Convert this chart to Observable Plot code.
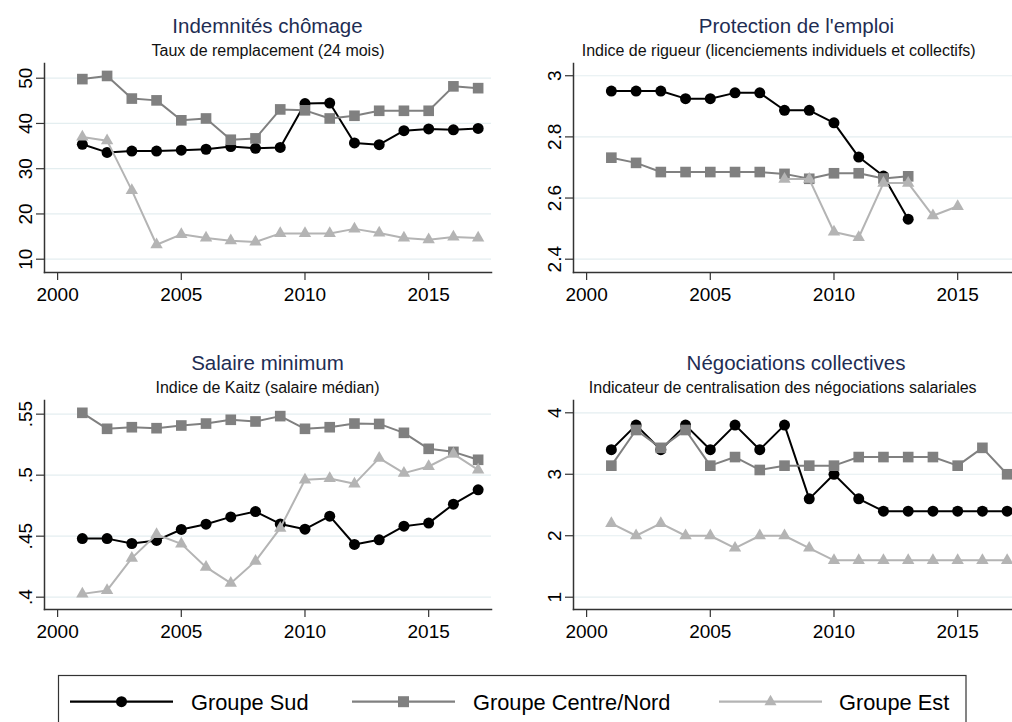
<!DOCTYPE html>
<html>
<head>
<meta charset="utf-8">
<script src="https://cdn.jsdelivr.net/npm/d3@7"></script>
<script src="https://cdn.jsdelivr.net/npm/@observablehq/plot@0.6"></script>
<style>
  html, body { margin: 0; padding: 0; background: #fff; overflow: hidden; }
  #root { position: relative; width: 1012px; height: 722px; overflow: hidden; font-family: "Liberation Sans", Arial, sans-serif; }
  .panel { position: absolute; }
  #overlay { position: absolute; left: 0; top: 0; }
</style>
</head>
<body>
<div id="root"></div>
<script>
// ---------- Data ----------
const groups = ["Groupe Sud", "Groupe Centre/Nord", "Groupe Est"];
const groupColors = ["#000000", "#808080", "#b4b4b4"];
const groupSymbols = ["circle", "square", "triangle"];

const years = [2001, 2002, 2003, 2004, 2005, 2006, 2007, 2008, 2009, 2010, 2011, 2012, 2013, 2014, 2015, 2016, 2017];
const xTicks = [2000, 2005, 2010, 2015];

// Indemnités chômage — taux de remplacement (24 mois)
const ucSud = [35.4, 33.6, 33.9, 33.9, 34.1, 34.3, 34.9, 34.5, 34.7, 44.4, 44.5, 35.7, 35.3, 38.4, 38.8, 38.6, 38.9];
const ucCentreNord = [49.8, 50.5, 45.5, 45.1, 40.7, 41.1, 36.4, 36.7, 43.1, 42.9, 41.1, 41.7, 42.8, 42.8, 42.8, 48.2, 47.8];
const ucEst = [37.0, 36.2, 25.2, 13.2, 15.5, 14.7, 14.1, 13.8, 15.7, 15.7, 15.7, 16.7, 15.8, 14.7, 14.3, 14.9, 14.7];
const ucTicks = [10, 20, 30, 40, 50];

// Protection de l'emploi — indice de rigueur
const eplYearsSudCN = [2001, 2002, 2003, 2004, 2005, 2006, 2007, 2008, 2009, 2010, 2011, 2012, 2013];
const eplSud = [2.950, 2.950, 2.950, 2.925, 2.925, 2.944, 2.944, 2.887, 2.887, 2.846, 2.734, 2.672, 2.531];
const eplCentreNord = [2.732, 2.715, 2.685, 2.685, 2.685, 2.685, 2.685, 2.679, 2.663, 2.681, 2.681, 2.664, 2.671];
const eplYearsEst = [2008, 2009, 2010, 2011, 2012, 2013, 2014, 2015];
const eplEst = [2.662, 2.662, 2.489, 2.471, 2.649, 2.649, 2.542, 2.573];
const eplTicks = [2.4, 2.6, 2.8, 3];

// Salaire minimum — indice de Kaitz (salaire médian)
const kaitzSud = [0.448, 0.448, 0.444, 0.4465, 0.4555, 0.4598, 0.4658, 0.4702, 0.460, 0.4557, 0.4664, 0.4432, 0.447, 0.4582, 0.4607, 0.4762, 0.488];
const kaitzCentreNord = [0.5511, 0.538, 0.5393, 0.5385, 0.5407, 0.5423, 0.5454, 0.544, 0.5484, 0.538, 0.5393, 0.5423, 0.542, 0.5347, 0.5216, 0.5191, 0.5126];
const kaitzEst = [0.4027, 0.4055, 0.432, 0.4514, 0.4437, 0.4246, 0.4115, 0.4295, 0.4566, 0.4962, 0.4973, 0.4929, 0.514, 0.5017, 0.5071, 0.5175, 0.5044];
const kaitzTicks = [0.4, 0.45, 0.5, 0.55];
const kaitzTickLabels = [".4", ".45", ".5", ".55"];

// Négociations collectives — centralisation
const negSud = [3.4, 3.8, 3.4, 3.8, 3.4, 3.8, 3.4, 3.8, 2.6, 3.0, 2.6, 2.4, 2.4, 2.4, 2.4, 2.4, 2.4];
const negCentreNord = [3.14, 3.72, 3.43, 3.72, 3.14, 3.28, 3.07, 3.14, 3.14, 3.14, 3.28, 3.28, 3.28, 3.28, 3.14, 3.43, 3.0];
const negEst = [2.2, 2.0, 2.2, 2.0, 2.0, 1.8, 2.0, 2.0, 1.8, 1.6, 1.6, 1.6, 1.6, 1.6, 1.6, 1.6, 1.6];
const negTicks = [1, 2, 3, 4];

const titles = ["Indemnités chômage", "Protection de l'emploi", "Salaire minimum", "Négociations collectives"];
const subtitles = [
  "Taux de remplacement (24 mois)",
  "Indice de rigueur (licenciements individuels et collectifs)",
  "Indice de Kaitz (salaire médian)",
  "Indicateur de centralisation des négociations salariales"
];

// ---------- Helpers ----------
const FONT = '"Liberation Sans", Arial, sans-serif';
const toRows = (xs, vs, g) => xs.map((x, i) => ({year: x, value: vs[i], group: g}));
const markerR = [5.5, 6.0, 4.6];

function makePanel({series, ydomain, yticks, yfmt, left, top, width, marginRight}) {
  const marks = [
    Plot.gridY(yticks, {stroke: "#e4eef0", strokeOpacity: 1, strokeWidth: 1.2}),
    Plot.axisY(yticks, {
      label: null, tickRotate: -90, tickSize: 8, tickPadding: 5, tickFormat: yfmt,
      fontSize: 19, fill: "#000", stroke: "#333", strokeWidth: 1.2
    }),
    Plot.axisX(xTicks, {
      label: null, tickSize: 8, tickPadding: 7, tickFormat: d => String(d),
      fontSize: 19, fill: "#000", stroke: "#333", strokeWidth: 1.2
    }),
    Plot.frame({anchor: "left", stroke: "#333", strokeWidth: 1.5}),
    Plot.frame({anchor: "bottom", stroke: "#333", strokeWidth: 1.5})
  ];
  series.forEach((rows, i) => {
    marks.push(Plot.line(rows, {x: "year", y: "value", stroke: groupColors[i], strokeWidth: 2}));
    marks.push(Plot.dot(rows, {
      x: "year", y: "value", fill: groupColors[i], stroke: "none",
      symbol: groupSymbols[i], r: markerR[i]
    }));
  });
  const svg = Plot.plot({
    width, height: 330,
    marginLeft: 44, marginRight, marginTop: top === 0 ? 63 : 60, marginBottom: top === 0 ? 58 : 61,
    style: {fontFamily: FONT, background: "transparent", overflow: "visible"},
    x: {domain: [1999.47, 2017.54], label: null},
    y: {domain: ydomain, label: null},
    marks
  });
  svg.classList.add("panel");
  svg.style.left = left + "px";
  svg.style.top = top + "px";
  return svg;
}

const root = document.getElementById("root");

root.appendChild(makePanel({
  series: [toRows(years, ucSud, groups[0]), toRows(years, ucCentreNord, groups[1]), toRows(years, ucEst, groups[2])],
  ydomain: [7.06, 53.25], yticks: ucTicks, yfmt: d => String(d),
  left: 0, top: 0, width: 506, marginRight: 15
}));
root.appendChild(makePanel({
  series: [toRows(eplYearsSudCN, eplSud, groups[0]), toRows(eplYearsSudCN, eplCentreNord, groups[1]), toRows(eplYearsEst, eplEst, groups[2])],
  ydomain: [2.3565, 3.040], yticks: eplTicks, yfmt: d => String(d),
  left: 529, top: 0, width: 491, marginRight: 0
}));
root.appendChild(makePanel({
  series: [toRows(years, kaitzSud, groups[0]), toRows(years, kaitzCentreNord, groups[1]), toRows(years, kaitzEst, groups[2])],
  ydomain: [0.3899, 0.5612], yticks: kaitzTicks, yfmt: d => kaitzTickLabels[kaitzTicks.indexOf(d)],
  left: 0, top: 340, width: 506, marginRight: 15
}));
root.appendChild(makePanel({
  series: [toRows(years, negSud, groups[0]), toRows(years, negCentreNord, groups[1]), toRows(years, negEst, groups[2])],
  ydomain: [0.8, 4.2], yticks: negTicks, yfmt: d => String(d),
  left: 529, top: 340, width: 491, marginRight: 0
}));

// ---------- Titles & legend overlay ----------
const overlay = d3.select(root).append("svg")
  .attr("id", "overlay").attr("width", 1012).attr("height", 722)
  .style("font-family", FONT);

const titlePos = [
  {x: 267.5, y: 33, sx: 268, sy: 56},
  {x: 796.5, y: 33, sx: 778.7, sy: 56},
  {x: 267.5, y: 369.5, sx: 267.5, sy: 393},
  {x: 796, y: 369.5, sx: 782.7, sy: 393}
];
titlePos.forEach((p, i) => {
  overlay.append("text").attr("x", p.x).attr("y", p.y).attr("text-anchor", "middle")
    .attr("font-size", 20.5).attr("fill", "#1e2d53").text(titles[i]);
  overlay.append("text").attr("x", p.sx).attr("y", p.sy).attr("text-anchor", "middle")
    .attr("font-size", 16).attr("fill", "#111").text(subtitles[i]);
});

// Legend
const lg = overlay.append("g");
lg.append("rect").attr("x", 58.5).attr("y", 675.5).attr("width", 907.5).attr("height", 70)
  .attr("fill", "#fff").attr("stroke", "#333").attr("stroke-width", 1.2);
const legendItems = [
  {x0: 70, x1: 173, tx: 191},
  {x0: 352, x1: 455, tx: 473},
  {x0: 719, x1: 822, tx: 839}
];
const legendR = [5.5, 6.2, 4.45];
legendItems.forEach((it, i) => {
  const cy = 701.7;
  lg.append("line").attr("x1", it.x0).attr("x2", it.x1).attr("y1", cy).attr("y2", cy)
    .attr("stroke", groupColors[i]).attr("stroke-width", 2.2);
  const sym = [d3.symbolCircle, d3.symbolSquare, d3.symbolTriangle][i];
  const r = legendR[i];
  lg.append("path").attr("d", d3.symbol(sym, Math.PI * r * r)())
    .attr("transform", `translate(${(it.x0 + it.x1) / 2},${cy})`).attr("fill", groupColors[i]);
  lg.append("text").attr("x", it.tx).attr("y", 709.5).attr("font-size", 21.8).attr("fill", "#000").text(groups[i]);
});
</script>
</body>
</html>
